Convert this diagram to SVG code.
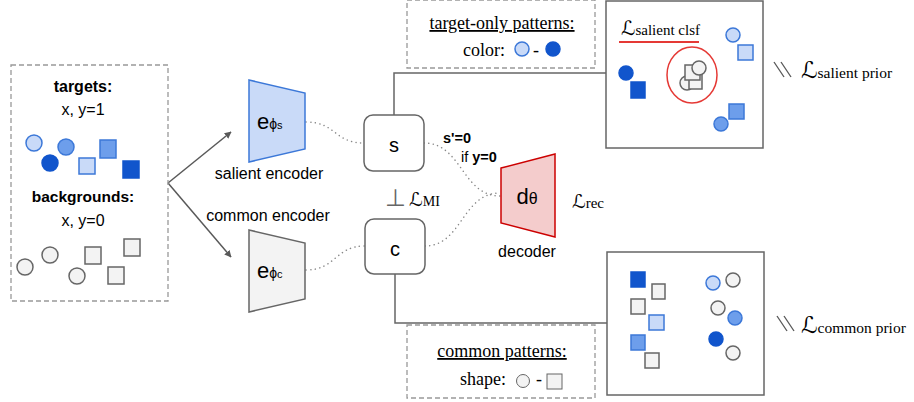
<svg xmlns="http://www.w3.org/2000/svg" width="914" height="402" viewBox="0 0 914 402">
<defs>
<style>
.sans{font-family:"Liberation Sans",Arial,sans-serif;fill:#000}
.serif{font-family:"Liberation Serif","Times New Roman",serif;fill:#000}
.scr{font-family:"DejaVu Serif","DejaVu Sans",serif;font-style:italic;fill:#000}
.dash{fill:none;stroke:#999;stroke-width:1.3;stroke-dasharray:5 3}
.box{fill:#fff;stroke:#666;stroke-width:1.5}
.conn{fill:none;stroke:#666;stroke-width:1.5}
.dot{fill:none;stroke:#888;stroke-width:1.5;stroke-dasharray:0.1 4.5;stroke-linecap:round}
.lt{fill:#c9daf8;stroke:#3c78d8;stroke-width:1.5}
.md{fill:#6d9eeb;stroke:#3c78d8;stroke-width:1.5}
.dk{fill:#1155cc;stroke:#1155cc;stroke-width:1.5}
.gr{fill:#f3f3f3;stroke:#666;stroke-width:1.5}
</style>
<marker id="ah" viewBox="0 0 10 10" refX="9" refY="5" markerWidth="7" markerHeight="7" orient="auto" markerUnits="userSpaceOnUse">
<path d="M0,0 L10,5 L0,10 z" fill="#595959"/>
</marker>
</defs>
<rect width="914" height="402" fill="#fff"/>

<g id="connectors">
<line x1="168" y1="183" x2="231" y2="132" stroke="#595959" stroke-width="1.5" marker-end="url(#ah)"/>
<line x1="168" y1="183" x2="231" y2="257" stroke="#595959" stroke-width="1.5" marker-end="url(#ah)"/>
<path class="dot" d="M306,122 C336,122 334,143 364,143"/>
<path class="dot" d="M306,270 C336,270 335,246 365,246"/>
<path class="dot" d="M424,143 C462,143 462,196 500,196"/>
<path class="dot" d="M425,246 C462,246 462,193 500,193"/>
<polyline class="conn" points="394,115 394,73 607,73"/>
<polyline class="conn" points="395,274 395,323 607,323"/>
</g>

<g id="data">
<rect class="dash" x="11" y="65" width="157" height="236"/>
<text class="sans" x="83" y="92" font-size="16" font-weight="bold" text-anchor="middle">targets:</text>
<text class="sans" x="83" y="115" font-size="16" text-anchor="middle">x, y=1</text>
<circle class="lt" cx="34" cy="143" r="8"/>
<circle class="md" cx="66" cy="147" r="8"/>
<circle class="dk" cx="50" cy="163" r="8"/>
<rect class="lt" x="79" y="158" width="16" height="16"/>
<rect class="md" x="100" y="140" width="16" height="18"/>
<rect class="dk" x="123" y="161" width="16" height="17"/>
<text class="sans" x="83" y="202" font-size="15.5" font-weight="bold" text-anchor="middle">backgrounds:</text>
<text class="sans" x="83" y="226" font-size="16" text-anchor="middle">x, y=0</text>
<circle class="gr" cx="25" cy="267" r="8"/>
<circle class="gr" cx="50" cy="255" r="8"/>
<circle class="gr" cx="77" cy="276" r="8"/>
<rect class="gr" x="85" y="247" width="16" height="17"/>
<rect class="gr" x="124" y="239" width="16" height="17"/>
<rect class="gr" x="108" y="267" width="16" height="17"/>
</g>

<g id="salient-encoder">
<polygon points="249,80 305,93 305,149 249,162" fill="#c9daf8" stroke="#3c78d8" stroke-width="1.5"/>
<text class="sans" x="257" y="129" font-size="22">e<tspan font-size="14">ϕ</tspan><tspan font-size="11">s</tspan></text>
<text class="sans" x="269" y="179" font-size="16" text-anchor="middle">salient encoder</text>
</g>

<g id="common-encoder">
<text class="sans" x="268" y="221" font-size="16" text-anchor="middle">common encoder</text>
<polygon points="249,230 305,243 305,299 249,312" fill="#f3f3f3" stroke="#666" stroke-width="1.5"/>
<text class="sans" x="257" y="278" font-size="22">e<tspan font-size="14">ϕ</tspan><tspan font-size="11">c</tspan></text>
</g>

<g id="s">
<rect class="box" x="364" y="115" width="60" height="56" rx="9"/>
<text class="sans" x="394" y="152" font-size="20" text-anchor="middle">s</text>
</g>

<g id="c">
<rect class="box" x="365" y="219" width="60" height="55" rx="9"/>
<text class="sans" x="395" y="256" font-size="20" text-anchor="middle">c</text>
</g>

<g id="mi">
<text x="395" y="206" font-size="24" text-anchor="middle" style="font-family:'DejaVu Sans',sans-serif;fill:#666;font-weight:200">⊥</text>
<text class="scr" x="409" y="206" font-size="19">ℒ<tspan class="serif" font-style="normal" font-size="14">MI</tspan></text>
</g>

<g id="sprime">
<text class="sans" x="443" y="143" font-size="14.5" font-weight="bold">s'=0</text>
<text class="sans" x="461" y="162" font-size="14.5">if <tspan font-weight="bold">y=0</tspan></text>
</g>

<g id="decoder">
<polygon points="501,168 555,154 555,237 501,223" fill="#f4cccc" stroke="#cc0000" stroke-width="1.5"/>
<text class="sans" x="527" y="204" font-size="22" text-anchor="middle">d<tspan font-size="16">θ</tspan></text>
<text class="sans" x="527" y="257" font-size="16" text-anchor="middle">decoder</text>
<text class="scr" x="572" y="208" font-size="19">ℒ<tspan class="serif" font-style="normal" font-size="15">rec</tspan></text>
</g>

<g id="target-patterns">
<rect class="dash" x="407" y="0" width="188" height="68"/>
<text class="serif" x="502" y="29" font-size="18" text-anchor="middle" text-decoration="underline">target-only patterns:</text>
<text class="serif" x="463" y="56" font-size="18">color:</text>
<circle class="lt" cx="522" cy="49" r="7"/>
<text class="serif" x="533" y="56" font-size="18">-</text>
<circle class="dk" cx="553" cy="49" r="7"/>
</g>

<g id="common-patterns">
<rect class="dash" x="407" y="325" width="188" height="73"/>
<text class="serif" x="502" y="357" font-size="18" text-anchor="middle" text-decoration="underline">common patterns:</text>
<text class="serif" x="460" y="385" font-size="18">shape:</text>
<circle class="gr" cx="523" cy="381" r="6.5" style="stroke-width:1"/>
<text class="serif" x="536" y="385" font-size="18">-</text>
<rect class="gr" x="547" y="374" width="15" height="15" style="stroke-width:1"/>
</g>

<g id="salient-latent">
<rect class="box" x="606" y="1" width="157" height="147"/>
<text class="scr" x="621" y="35" font-size="20">ℒ<tspan class="serif" font-style="normal" font-size="15">salient clsf</tspan></text>
<line x1="619" y1="42" x2="699" y2="42" stroke="#e53935" stroke-width="2"/>
<circle class="lt" cx="733" cy="35" r="7"/>
<rect class="lt" x="738" y="45" width="15" height="15"/>
<circle class="dk" cx="626" cy="73" r="7"/>
<rect class="dk" x="631" y="82" width="14" height="16"/>
<ellipse cx="692" cy="75" rx="25" ry="28" fill="none" stroke="#e53935" stroke-width="1.5"/>
<circle class="gr" cx="687" cy="83" r="7"/>
<rect class="gr" x="689" y="74" width="13" height="15"/>
<rect class="gr" x="685" y="65" width="15" height="15"/>
<circle class="gr" cx="699" cy="68" r="7"/>
<circle class="md" cx="721" cy="124" r="7"/>
<rect class="md" x="729" y="104" width="15" height="15"/>
</g>

<g id="salient-prior">
<line x1="774" y1="62" x2="784" y2="77" stroke="#555" stroke-width="1.3"/>
<line x1="781" y1="62" x2="791" y2="77" stroke="#555" stroke-width="1.3"/>
<text class="scr" x="801" y="78" font-size="23">ℒ<tspan class="serif" font-style="normal" font-size="15.5">salient prior</tspan></text>
</g>

<g id="common-latent">
<rect class="box" x="607" y="252" width="157" height="143"/>
<rect class="dk" x="631" y="272" width="14" height="15"/>
<rect class="gr" x="652" y="284" width="13" height="15"/>
<rect class="gr" x="631" y="299" width="14" height="15"/>
<rect class="lt" x="649" y="315" width="15" height="15"/>
<rect class="md" x="631" y="335" width="14" height="15"/>
<rect class="gr" x="645" y="353" width="14" height="15"/>
<circle class="lt" cx="713" cy="283" r="7"/>
<circle class="gr" cx="733" cy="280" r="7"/>
<circle class="gr" cx="718" cy="308" r="7"/>
<circle class="md" cx="735" cy="318" r="7"/>
<circle class="dk" cx="716" cy="339" r="7"/>
<circle class="gr" cx="733" cy="353" r="7"/>
</g>

<g id="common-prior">
<line x1="777" y1="316" x2="787" y2="331" stroke="#555" stroke-width="1.3"/>
<line x1="784" y1="316" x2="794" y2="331" stroke="#555" stroke-width="1.3"/>
<text class="scr" x="801" y="333" font-size="23">ℒ<tspan class="serif" font-style="normal" font-size="15.5">common prior</tspan></text>
</g>
</svg>
